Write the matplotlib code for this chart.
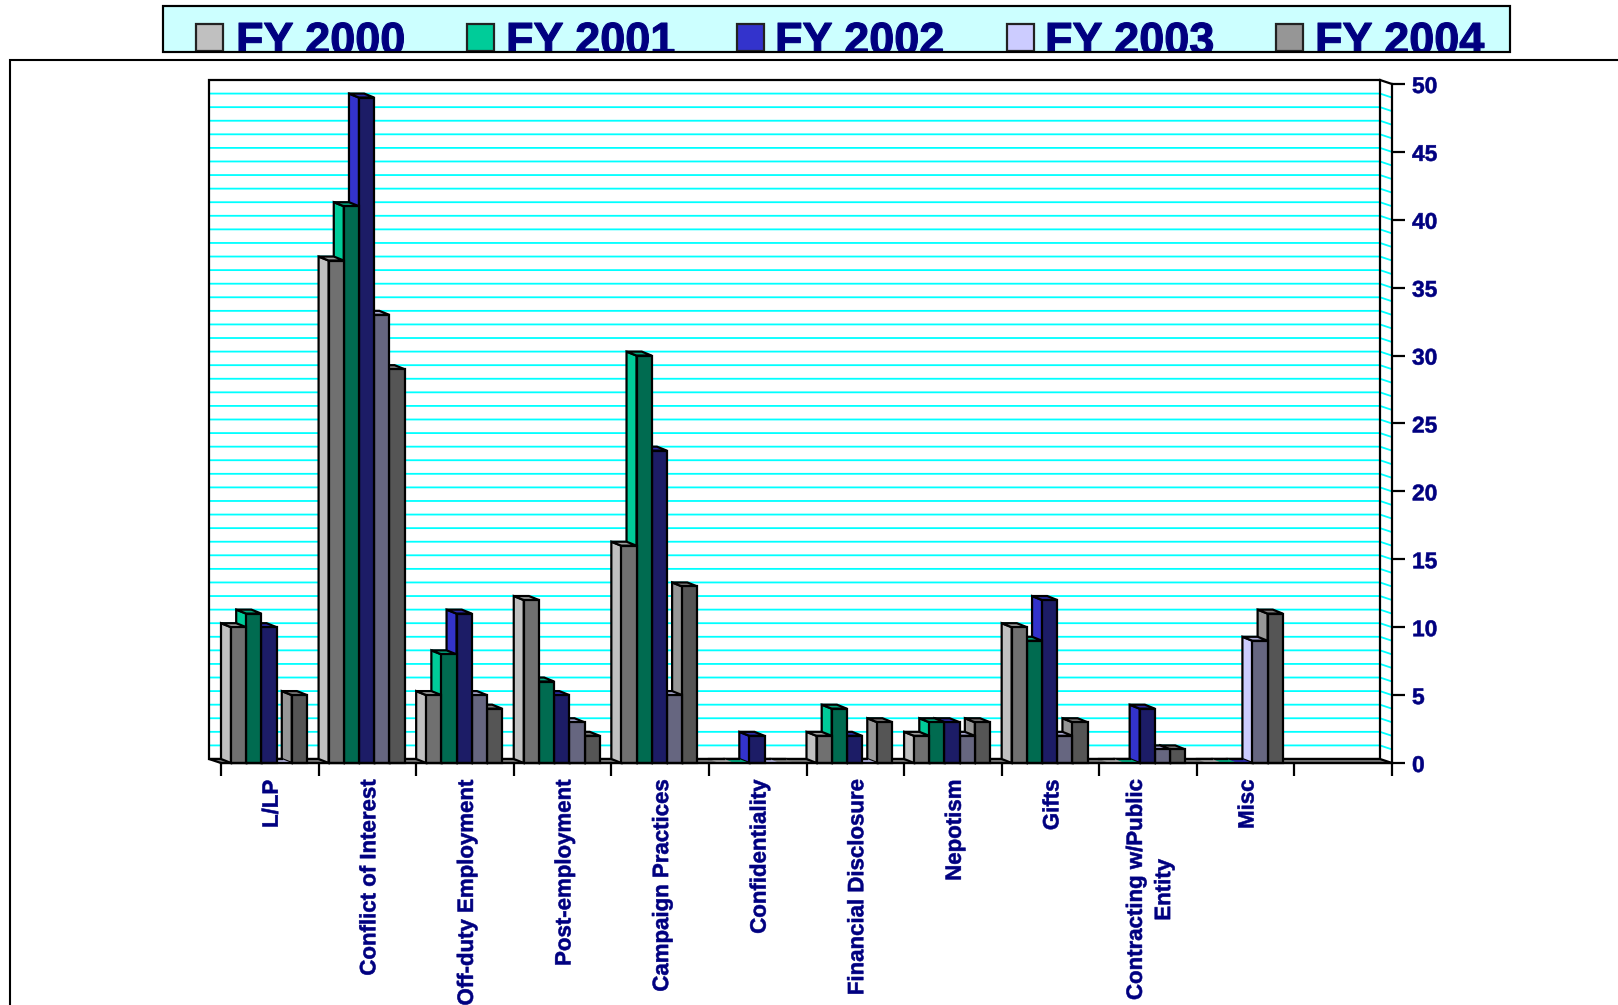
import matplotlib
matplotlib.use("Agg")
import matplotlib.pyplot as plt
import matplotlib.patheffects as pe
from matplotlib.patches import Polygon, Rectangle
from matplotlib.ticker import MultipleLocator

categories = ["L/LP", "Conflict of Interest", "Off-duty Employment", "Post-employment",
              "Campaign Practices", "Confidentiality", "Financial Disclosure", "Nepotism",
              "Gifts", "Contracting w/Public\nEntity", "Misc", ""]
series_names = ["FY 2000", "FY 2001", "FY 2002", "FY 2003", "FY 2004"]
fy2000 = [10, 37, 5, 12, 16, 0, 2, 2, 10, 0, 0]
fy2001 = [11, 41, 8, 6, 30, 0, 4, 3, 9, 0, 0]
fy2002 = [10, 49, 11, 5, 23, 2, 2, 3, 12, 4, 0]
fy2003 = [0, 33, 5, 3, 5, 0, 0, 2, 2, 1, 9]
fy2004 = [5, 29, 4, 2, 13, 0, 3, 3, 3, 1, 11]
series = [fy2000, fy2001, fy2002, fy2003, fy2004]

side_colors = ["#C0C0C0", "#00CC99", "#3333CC", "#CCCCFF", "#969696"]
front_colors = ["#707070", "#006B50", "#1C1C66", "#666680", "#555555"]
top_colors = ["#A0A0A0", "#00AA80", "#2B2BAA", "#AAAAD5", "#7D7D7D"]

NAVY = "#000080"
W, H = 1618, 1005
LW = 1.6
fig = plt.figure(figsize=(W / 100, H / 100), dpi=100, facecolor="white")

# page decoration in pixel space
deco = fig.add_axes([0, 0, 1, 1], zorder=0)
deco.set_xlim(0, W)
deco.set_ylim(H, 0)
deco.axis("off")
deco.plot([10, 10, W], [H, 60, 60], color="black", lw=1.5, solid_joinstyle="miter")
box = Rectangle((163, 6), 1347, 46, facecolor="#CCFFFF", edgecolor="black", lw=1.5)
deco.add_patch(box)
swatch_x = [196, 467, 737, 1007, 1276]
label_x = [236, 506, 775, 1045, 1315]
for name, sx, lx, c in zip(series_names, swatch_x, label_x, side_colors):
    deco.add_patch(Rectangle((sx, 24), 27, 27, facecolor=c, edgecolor="#222222", lw=1.6))
    t = deco.text(lx, 22, name, family="Liberation Sans", weight="bold", fontsize=32.4,
                  color=NAVY, va="top", ha="left", clip_on=True,
                  path_effects=[pe.Stroke(linewidth=0.8, foreground=NAVY)])
    t.set_clip_path(box)
deco.add_patch(Rectangle((163, 6), 1347, 46, facecolor="none", edgecolor="black", lw=1.5, zorder=5))

# chart axes: front plane of the 3D box
x0, x1, y0, y1 = 221, 1392, 763, 84
ax = fig.add_axes([x0 / W, 1 - y0 / H, (x1 - x0) / W, (y0 - y1) / H], zorder=1)
ax.patch.set_alpha(0)
ax.set_xlim(0, 12)
ax.set_ylim(0, 50)
for s in ["top", "left"]:
    ax.spines[s].set_visible(False)
ax.spines["right"].set_linewidth(LW)
ax.spines["bottom"].set_linewidth(LW)
ax.spines["bottom"].set_zorder(1000)
ax.spines["right"].set_zorder(1000)

wall_dx, dy = 0.123, 0.295
bar_dx = 0.1025
bar_w = 0.1557

# back wall, right wall and floor
ax.add_patch(Polygon([(-wall_dx, dy), (12 - wall_dx, dy), (12 - wall_dx, 50 + dy), (-wall_dx, 50 + dy)],
                     closed=True, facecolor="white", edgecolor="none", clip_on=False, zorder=1))
for v in range(1, 50):
    ax.plot([-wall_dx, 12 - wall_dx, 12], [v + dy, v + dy, v], color="#00FFFF", lw=1.3,
            solid_capstyle="butt", clip_on=False, zorder=2)
ax.add_patch(Polygon([(-wall_dx, dy), (12 - wall_dx, dy), (12 - wall_dx, 50 + dy), (-wall_dx, 50 + dy)],
                     closed=True, facecolor="none", edgecolor="black", lw=LW, clip_on=False, zorder=3))
ax.plot([12 - wall_dx, 12], [50 + dy, 50], color="black", lw=LW, clip_on=False, zorder=3)
ax.add_patch(Polygon([(-wall_dx, dy), (12 - wall_dx, dy), (12, 0), (0, 0)], closed=True,
                     facecolor="#808080", edgecolor="black", lw=LW, joinstyle="miter",
                     clip_on=False, zorder=3))

# bars, painted back to front (right to left)
z = 4
for g in range(len(fy2000) - 1, -1, -1):
    for k in range(len(series) - 1, -1, -1):
        v = series[k][g]
        l = g + bar_dx + k * bar_w
        r = l + bar_w
        top = [(l, v), (r, v), (r - bar_dx, v + dy), (l - bar_dx, v + dy)]
        if v == 0:
            ax.add_patch(Polygon(top, closed=True, facecolor=top_colors[k], edgecolor="none",
                                 clip_on=False, zorder=z))
            ax.plot([l - bar_dx, r - bar_dx], [dy, dy], color="black", lw=LW, clip_on=False, zorder=z)
            z += 1
            continue
        side = [(l, 0), (l, v), (l - bar_dx, v + dy), (l - bar_dx, dy)]
        front = [(l, 0), (r, 0), (r, v), (l, v)]
        for pts, col in ((side, side_colors[k]), (top, top_colors[k]), (front, front_colors[k])):
            ax.add_patch(Polygon(pts, closed=True, facecolor=col, edgecolor="black", lw=LW,
                                 joinstyle="miter", clip_on=False, zorder=z))
        z += 1

# axes ticks and labels
stroke = [pe.Stroke(linewidth=0.4, foreground=NAVY)]
ax.yaxis.tick_right()
ax.yaxis.set_major_locator(MultipleLocator(5))
ax.tick_params(axis="y", which="major", length=9.4, width=LW, pad=5, labelcolor=NAVY, labelsize=16.4)
for lab in ax.get_yticklabels():
    lab.set_fontfamily("Liberation Sans")
    lab.set_fontweight("bold")
    lab.set_path_effects(stroke)
ax.set_xticks(range(0, 13))
ax.set_xticklabels([])
ax.set_xticks([i + 0.525 for i in range(len(categories))], minor=True)
ax.set_xticklabels(categories, minor=True, rotation=90, va="top", ha="center", multialignment="center",
                   family=["Liberation Sans Narrow", "Liberation Sans"], weight="bold",
                   fontsize=16, color=NAVY, linespacing=1.45)
for lab in ax.get_xticklabels(minor=True):
    lab.set_path_effects(stroke)
ax.tick_params(axis="x", which="major", length=9.4, width=LW)
ax.tick_params(axis="x", which="minor", length=0, pad=12)

fig.savefig("out.png", dpi=100)
